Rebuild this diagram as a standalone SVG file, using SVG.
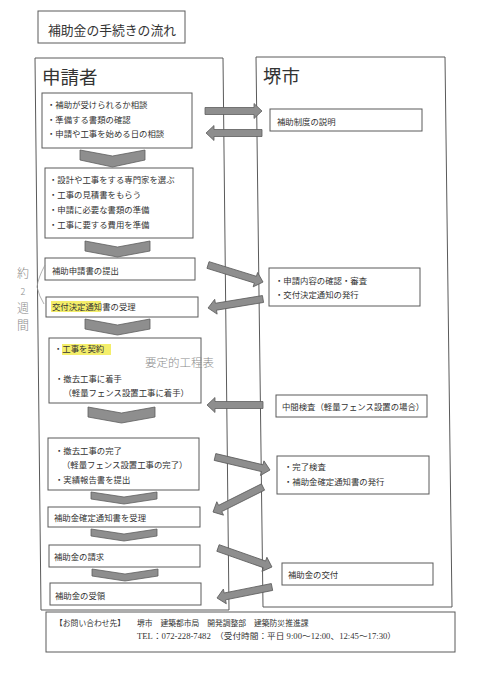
<svg xmlns="http://www.w3.org/2000/svg" width="480" height="679" viewBox="0 0 480 679">
<style>
  .bg{fill:#ffffff}
  .box{fill:#ffffff;stroke:#5a5a5a;stroke-width:1}
  .outer{fill:none;stroke:#5a5a5a;stroke-width:1}
  .t{font-family:"Noto Sans CJK JP","Noto Sans",sans-serif;font-size:8.4px;fill:#333333}
  .title{font-family:"Noto Sans CJK JP",sans-serif;font-size:12.8px;fill:#333333}
  .head{font-family:"Noto Sans CJK JP",sans-serif;font-size:18.5px;fill:#333333}
  .foot{font-family:"Liberation Serif","Noto Sans CJK JP",serif;font-size:7.8px;fill:#333333}
  .chev{fill:#8e8e8e;stroke:#5e5e5e;stroke-width:0.8}
  .arr{fill:#8e8e8e;stroke:#5e5e5e;stroke-width:0.8}
  .hl{fill:#f4ee6a}
  .hw{font-family:"Noto Sans CJK JP",sans-serif;font-weight:300;fill:#8a8a8a}
</style>
<rect class="bg" x="0" y="0" width="480" height="679"/>

<g id="title">
  <rect class="box" x="38" y="11" width="147" height="32"/>
  <text class="title" x="48" y="34.5">補助金の手続きの流れ</text>
</g>

<g id="lane-applicant">
  <path class="outer" d="M35,58 L223,58 L229,610 L41,610 Z"/>
  <text class="head" x="42" y="84">申請者</text>
</g>
<g id="lane-city">
  <path class="outer" d="M256,57 L445,57 L452,607 L263,607 Z"/>
  <text class="head" x="263" y="83">堺市</text>
</g>

<g id="a1">
  <rect class="box" x="42" y="93" width="150" height="55"/>
  <text class="t" x="47" y="108">・補助が受けられるか相談</text>
  <text class="t" x="47" y="122.5">・準備する書類の確認</text>
  <text class="t" x="47" y="136.5">・申請や工事を始める日の相談</text>
</g>
<g id="a2">
  <rect class="box" x="45" y="168" width="148" height="70"/>
  <text class="t" x="49" y="183">・設計や工事をする専門家を選ぶ</text>
  <text class="t" x="49" y="198">・工事の見積書をもらう</text>
  <text class="t" x="49" y="213">・申請に必要な書類の準備</text>
  <text class="t" x="49" y="228">・工事に要する費用を準備</text>
</g>
<g id="a3">
  <rect class="box" x="45" y="258" width="150" height="22"/>
  <text class="t" x="52" y="274">補助申請書の提出</text>
</g>
<g id="a4">
  <rect class="box" x="46" y="297" width="152" height="20"/>
  <rect class="hl" x="51" y="301" width="50" height="11"/>
  <text class="t" x="52" y="309.5">交付決定通知書の受理</text>
</g>
<g id="a5">
  <rect class="box" x="49" y="338" width="152" height="65"/>
  <rect class="hl" x="62" y="344" width="49" height="11"/>
  <text class="t" x="54" y="352">・工事を契約</text>
  <text class="t" x="55" y="382">・撤去工事に着手</text>
  <text class="t" x="63.5" y="396">（軽量フェンス設置工事に着手）</text>
</g>
<g id="a6">
  <rect class="box" x="48" y="438" width="151" height="52"/>
  <text class="t" x="55" y="454">・撤去工事の完了</text>
  <text class="t" x="62" y="467.5">（軽量フェンス設置工事の完了）</text>
  <text class="t" x="55" y="483">・実績報告書を提出</text>
</g>
<g id="a7">
  <rect class="box" x="48" y="507" width="152" height="20"/>
  <text class="t" x="54" y="521">補助金確定通知書を受理</text>
</g>
<g id="a8">
  <rect class="box" x="49" y="545" width="151" height="22"/>
  <text class="t" x="54" y="560">補助金の請求</text>
</g>
<g id="a9">
  <rect class="box" x="50" y="583" width="151" height="22"/>
  <text class="t" x="55" y="599">補助金の受領</text>
</g>

<g id="c1">
  <rect class="box" x="270" y="109" width="152" height="22"/>
  <text class="t" x="277" y="125">補助制度の説明</text>
</g>
<g id="c2">
  <rect class="box" x="269" y="268" width="151" height="38"/>
  <text class="t" x="275" y="284">・申請内容の確認・審査</text>
  <text class="t" x="275" y="298">・交付決定通知の発行</text>
</g>
<g id="c3">
  <rect class="box" x="276" y="395" width="151" height="22"/>
  <text class="t" x="282" y="409.5">中間検査（軽量フェンス設置の場合）</text>
</g>
<g id="c4">
  <rect class="box" x="277" y="456" width="152" height="38"/>
  <text class="t" x="284" y="470">・完了検査</text>
  <text class="t" x="284" y="485">・補助金確定通知書の発行</text>
</g>
<g id="c5">
  <rect class="box" x="282" y="563" width="151" height="22"/>
  <text class="t" x="288" y="578">補助金の交付</text>
</g>

<g id="footer">
  <rect class="box" x="46" y="612" width="409" height="40"/>
  <text class="foot" x="55" y="626">【お問い合わせ先】</text>
  <text class="foot" x="137" y="626">堺市　建築都市局　開発調整部　建築防災推進課</text>
  <text class="foot" x="137" y="639" textLength="259" lengthAdjust="spacingAndGlyphs">TEL：072-228-7482　（受付時間：平日 9:00～12:00、12:45～17:30）</text>
</g>

<g id="connectors">
  <path class="chev" d="M80,150 L112.5,156 L145,150 L145,160 L112.5,167 L80,160 Z"/>
  <path class="chev" d="M85,241 L117.5,247 L150,241 L150,251 L117.5,257 L85,251 Z"/>
  <path class="chev" d="M85,319 L117.5,325 L150,319 L150,329 L117.5,335 L85,329 Z"/>
  <path class="chev" d="M88,407 L121.5,413 L155,407 L155,417 L121.5,423 L88,417 Z"/>
  <path class="chev" d="M91,492 L124,497 L157,492 L157,499 L124,504 L91,499 Z"/>
  <path class="chev" d="M91,529 L124,534 L157,529 L157,536 L124,541 L91,536 Z"/>
  <path class="chev" d="M92,569 L125,574 L158,569 L158,576 L125,581 L92,576 Z"/>

  <path class="arr" transform="translate(205,111)" d="M0,-3.5 H49 V-7.5 L57,0 L49,7.5 V3.5 H0 Z"/>
  <path class="arr" transform="translate(262,133) rotate(180)" d="M0,-3.5 H48 V-7.5 L56,0 L48,7.5 V3.5 H0 Z"/>
  <path class="arr" transform="translate(208,265) rotate(17.2)" d="M0,-3.5 H49.6 V-7.5 L57.6,0 L49.6,7.5 V3.5 H0 Z"/>
  <path class="arr" transform="translate(263,299) rotate(170.7)" d="M0,-3.5 H47.7 V-7.5 L55.7,0 L47.7,7.5 V3.5 H0 Z"/>
  <path class="arr" transform="translate(263,405) rotate(180)" d="M0,-3.5 H48 V-7.5 L56,0 L48,7.5 V3.5 H0 Z"/>
  <path class="arr" transform="translate(215,457) rotate(13.3)" d="M0,-3.5 H48.5 V-7.5 L56.5,0 L48.5,7.5 V3.5 H0 Z"/>
  <path class="arr" transform="translate(263,487) rotate(153.4)" d="M0,-3.5 H47.9 V-7.5 L55.9,0 L47.9,7.5 V3.5 H0 Z"/>
  <path class="arr" transform="translate(218,548) rotate(19.4)" d="M0,-3.5 H49.2 V-7.5 L57.2,0 L49.2,7.5 V3.5 H0 Z"/>
  <path class="arr" transform="translate(272,587) rotate(168.7)" d="M0,-3.5 H48.1 V-7.5 L56.1,0 L48.1,7.5 V3.5 H0 Z"/>
</g>

<g id="handwriting">
  <path d="M45,265 Q38,278 37,287 Q39,296 44,304" fill="none" stroke="#9a9a9a" stroke-width="0.8"/>
  <text class="hw" font-size="12" x="23" y="278" text-anchor="middle">約</text>
  <text class="hw" font-size="9" x="23" y="295" text-anchor="middle">2</text>
  <text class="hw" font-size="12" x="23" y="313" text-anchor="middle">週</text>
  <text class="hw" font-size="12" x="23" y="330" text-anchor="middle">間</text>
  <text class="hw" font-size="11.5" x="145" y="367">要定的工程表</text>
</g>
</svg>
